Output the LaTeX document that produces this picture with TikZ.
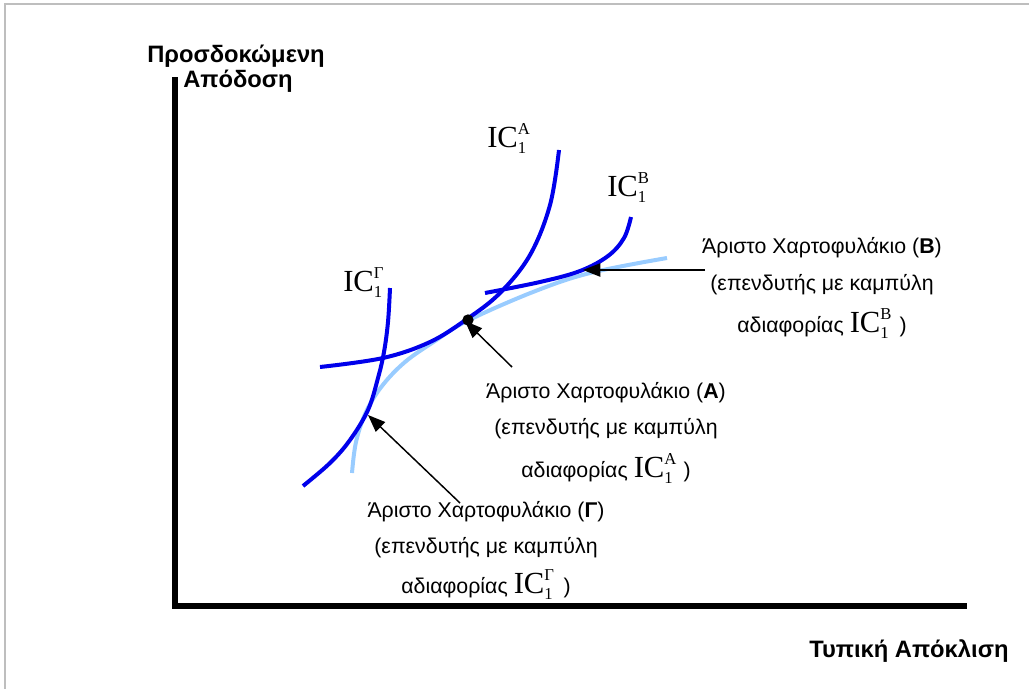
\documentclass[tikz,border=0pt]{standalone}
\usepackage{fontspec}
\setmainfont{Liberation Sans}
\newfontfamily\icserif{Liberation Serif}
\usetikzlibrary{arrows.meta}
\definecolor{icblue}{RGB}{0,0,235}
\definecolor{frontblue}{RGB}{153,204,255}
\definecolor{framegray}{RGB}{190,190,190}
\newcommand\ICsym[1]{{\icserif\fontsize{23}{23}\selectfont IC\makebox[0pt][l]{\raisebox{0.42em}{\fontsize{12.5}{12.5}\selectfont #1}}\raisebox{-0.22em}{\fontsize{12.5}{12.5}\selectfont 1}\hspace{0.35em}}}
\begin{document}
\begin{tikzpicture}[x=0.75pt,y=-0.75pt,
  lbl/.style={font=\fontsize{16}{19}\selectfont, inner sep=0pt, anchor=base},
  axlbl/.style={font=\bfseries\fontsize{17.8}{20}\selectfont, inner sep=0pt, anchor=base west},
  iclbl/.style={inner sep=0pt, anchor=base west},
  icurve/.style={icblue, line width=3pt},
  fcurve/.style={frontblue, line width=3pt},
  ptr/.style={-{Triangle[length=13pt,width=10pt]}, line width=1.1pt}]
\useasboundingbox (0,0) rectangle (1029,689);
% frame
\draw[framegray, line width=1.5pt] (5,689) -- (5,4) -- (1029,4);
% axes
\draw[line width=4.5pt] (175,77) -- (175,606) -- (967,606);
\node[axlbl] (ylab1) at (147,62) {Προσδοκώμενη};
\node[axlbl] (ylab2) at (183,87) {Απόδοση};
\node[axlbl] (xlab) at (809,657) {Τυπική Απόκλιση};
% efficient frontier
\draw[fcurve] plot[smooth, tension=0.6] coordinates {(352,473) (356,442) (366,412) (382,386) (405,362) (435,341) (467,321) (533,292) (590,273) (667,258)};
% indifference curves
\draw[icurve] plot[smooth, tension=0.6] coordinates {(320,367) (383,358) (430,342) (467,319) (500,293) (530,255) (550,205) (559,150)};
\draw[icurve] plot[smooth, tension=0.6] coordinates {(485,293) (540,282) (580,271) (608,256) (624,238) (631,217)};
\draw[icurve] plot[smooth, tension=0.6] coordinates {(390,288) (388,322) (384,352) (378,378) (368,410) (350,440) (330,463) (303,486)};
\node[circle, fill=black, inner sep=0pt, minimum size=8.5pt] (dot) at (468,320) {};
% curve labels
\node[iclbl] (icA) at (487,147) {\ICsym{A}};
\node[iclbl] (icB) at (607,196) {\ICsym{B}};
\node[iclbl] (icG) at (343,291) {\ICsym{Γ}};
% optimum labels
\node[lbl] (B1) at (822,253) {Άριστο Χαρτοφυλάκιο (\textbf{B})};
\node[lbl] (B2) at (822,290) {(επενδυτής με καμπύλη};
\node[lbl] (B3) at (822,332) {αδιαφορίας \ICsym{B})};
\node[lbl] (A1) at (606,398) {Άριστο Χαρτοφυλάκιο (\textbf{A})};
\node[lbl] (A2) at (606,434) {(επενδυτής με καμπύλη};
\node[lbl] (A3) at (606,477) {αδιαφορίας \ICsym{A})};
\node[lbl] (G1) at (486,517) {Άριστο Χαρτοφυλάκιο (\textbf{Γ})};
\node[lbl] (G2) at (486,553) {(επενδυτής με καμπύλη};
\node[lbl] (G3) at (486,593) {αδιαφορίας \ICsym{Γ})};
% pointers
\coordinate (tB) at (705,270);
\coordinate (hB) at (583,270);
\coordinate (tA) at (512,367);
\coordinate (hA) at (465,321);
\coordinate (tG) at (460,503);
\coordinate (hG) at (368,415);
\draw[ptr] (tB) -- (hB);
\draw[ptr] (tA) -- (hA);
\draw[ptr] (tG) -- (hG);
\end{tikzpicture}
\end{document}
